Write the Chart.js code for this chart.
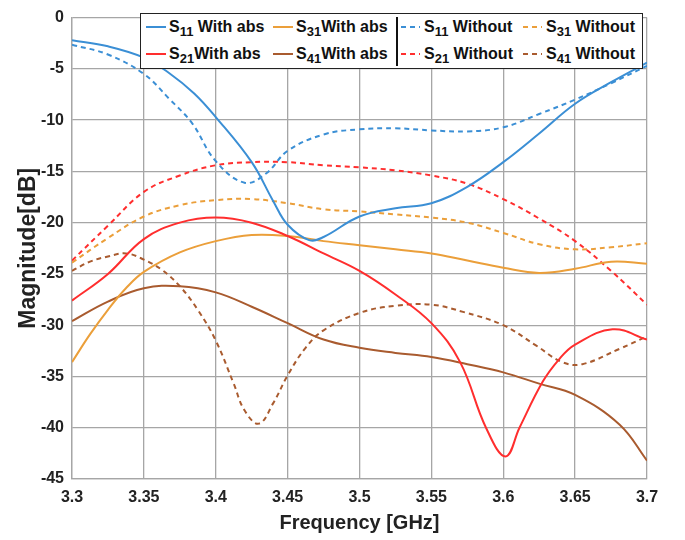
<!DOCTYPE html>
<html>
<head>
<meta charset="utf-8">
<script src="https://cdn.jsdelivr.net/npm/chart.js@4"></script>
<style>
  html, body { margin: 0; padding: 0; background: #fff; }
  #wrap { position: relative; width: 685px; height: 540px; }
  #legend {
    position: absolute; left: 140px; top: 13px; width: 501px; height: 54px;
    border: 1.5px solid #222; background: #fff;
    font: bold 16px "Liberation Sans", Arial, sans-serif; color: #111;
  }
  #legend .divider { position: absolute; left: 255px; top: 3px; width: 1.5px; height: 49px; background: #111; }
  #legend .item { position: absolute; height: 20px; display: flex; align-items: center; white-space: nowrap; }
  #legend svg { margin-right: 3px; }
  #legend sub { font-size: 13px; line-height: 0; }
</style>
</head>
<body>
<div id="wrap">
  <canvas id="chart" width="685" height="540"></canvas>
  <div id="legend"></div>
</div>
<script>
const xTicks = [3.3, 3.35, 3.4, 3.45, 3.5, 3.55, 3.6, 3.65, 3.7];
const xTickLabels = ["3.3", "3.35", "3.4", "3.45", "3.5", "3.55", "3.6", "3.65", "3.7"];
const yTicks = [0, -5, -10, -15, -20, -25, -30, -35, -40, -45];
const yTickLabels = ["0", "-5", "-10", "-15", "-20", "-25", "-30", "-35", "-40", "-45"];

// S11 with absorber
const freqS11Abs = [3.30, 3.325, 3.35, 3.3675, 3.385, 3.40, 3.425, 3.44, 3.45, 3.465, 3.475, 3.50, 3.525, 3.55, 3.575, 3.60, 3.625, 3.65, 3.675, 3.70];
const magS11Abs = [-2.2, -2.8, -3.9, -5.4, -7.4, -9.7, -14.1, -17.9, -20.2, -21.7, -21.4, -19.4, -18.6, -18.1, -16.5, -14.1, -11.3, -8.4, -6.3, -4.4];

// S21 with absorber
const freqS21Abs = [3.30, 3.325, 3.35, 3.375, 3.40, 3.425, 3.45, 3.475, 3.50, 3.525, 3.55, 3.57, 3.588, 3.6016, 3.6113, 3.6275, 3.639, 3.65, 3.676, 3.70];
const magS21Abs = [-27.6, -25.0, -21.6, -20.0, -19.5, -20.0, -21.3, -23.0, -24.7, -27.0, -29.8, -33.6, -40.0, -42.8, -40.0, -35.5, -33.3, -31.9, -30.4, -31.4];

// S31 with absorber
const freqS31Abs = [3.30, 3.3125, 3.325, 3.3375, 3.35, 3.375, 3.40, 3.425, 3.45, 3.475, 3.50, 3.525, 3.55, 3.575, 3.60, 3.625, 3.65, 3.675, 3.70];
const magS31Abs = [-33.6, -30.9, -28.5, -26.4, -24.8, -22.9, -21.8, -21.2, -21.3, -21.8, -22.2, -22.6, -23.0, -23.7, -24.4, -24.9, -24.5, -23.8, -24.0];

// S41 with absorber
const freqS41Abs = [3.30, 3.325, 3.35, 3.375, 3.40, 3.425, 3.45, 3.475, 3.50, 3.525, 3.55, 3.575, 3.60, 3.625, 3.65, 3.681, 3.70];
const magS41Abs = [-29.6, -27.7, -26.4, -26.2, -26.8, -28.2, -29.8, -31.4, -32.2, -32.7, -33.1, -33.8, -34.6, -35.7, -36.8, -39.7, -43.2];

// S11 without absorber
const freqS11No = [3.30, 3.325, 3.35, 3.3675, 3.3835, 3.40, 3.42, 3.435, 3.45, 3.475, 3.50, 3.525, 3.55, 3.575, 3.60, 3.625, 3.65, 3.675, 3.70];
const magS11No = [-2.65, -3.6, -5.5, -7.9, -10.3, -14.0, -16.1, -15.2, -13.0, -11.4, -10.9, -10.8, -11.0, -11.1, -10.7, -9.4, -8.0, -6.4, -4.7];

// S21 / S31 without absorber
const freqNo = [3.30, 3.325, 3.35, 3.375, 3.40, 3.425, 3.45, 3.475, 3.50, 3.525, 3.55, 3.575, 3.60, 3.625, 3.65, 3.675, 3.70];
const magS21No = [-23.7, -20.3, -17.0, -15.4, -14.4, -14.1, -14.1, -14.4, -14.6, -14.9, -15.4, -16.2, -17.7, -19.6, -21.8, -24.7, -28.0];
const magS31No = [-23.9, -21.5, -19.4, -18.3, -17.8, -17.7, -18.1, -18.7, -18.9, -19.2, -19.5, -20.0, -21.0, -22.1, -22.6, -22.4, -22.0];

// S41 without absorber
const freqS41No = [3.30, 3.3125, 3.325, 3.3375, 3.35, 3.3625, 3.375, 3.3875, 3.40, 3.4125, 3.42, 3.43, 3.44, 3.45, 3.4625, 3.475, 3.50, 3.525, 3.55, 3.572, 3.60, 3.623, 3.641, 3.655, 3.681, 3.70];
const magS41No = [-24.7, -23.8, -23.3, -23.0, -23.6, -24.6, -26.2, -28.5, -31.5, -35.7, -38.3, -39.6, -37.6, -34.9, -32.2, -30.5, -28.8, -28.1, -28.0, -28.7, -30.0, -32.0, -33.6, -33.8, -32.3, -31.1];

const blue = "#3b8fd5";
const red = "#ff2e2e";
const orange = "#eb9f3a";
const brown = "#a95b2f";
const dash = [5, 4];

const series = [
  { name: "11", label: " With abs", freq: freqS11Abs, mag: magS11Abs, color: blue, dashed: false, col: 0, row: 0 },
  { name: "21", label: "With abs", freq: freqS21Abs, mag: magS21Abs, color: red, dashed: false, col: 0, row: 1 },
  { name: "31", label: "With abs", freq: freqS31Abs, mag: magS31Abs, color: orange, dashed: false, col: 1, row: 0 },
  { name: "41", label: "With abs", freq: freqS41Abs, mag: magS41Abs, color: brown, dashed: false, col: 1, row: 1 },
  { name: "11", label: " Without", freq: freqS11No, mag: magS11No, color: blue, dashed: true, col: 2, row: 0 },
  { name: "21", label: " Without", freq: freqNo, mag: magS21No, color: red, dashed: true, col: 2, row: 1 },
  { name: "31", label: " Without", freq: freqNo, mag: magS31No, color: orange, dashed: true, col: 3, row: 0 },
  { name: "41", label: " Without", freq: freqS41No, mag: magS41No, color: brown, dashed: true, col: 3, row: 1 },
];

const fontFamily = "'Liberation Sans', Arial, sans-serif";
const tickFont = { family: fontFamily, size: 16, weight: "bold" };
const gridColor = "#a6a6a6";

new Chart(document.querySelector("#chart"), {
  type: "line",
  data: {
    datasets: series.map((s) => ({
      label: `S${s.name}${s.label}`,
      data: s.freq.map((f, i) => ({ x: f, y: s.mag[i] })),
      borderColor: s.color,
      borderWidth: 2,
      borderDash: s.dashed ? dash : [],
      pointRadius: 0,
      fill: false,
      tension: 0.4,
    })),
  },
  options: {
    responsive: false,
    animation: false,
    layout: { padding: { left: 0, right: 38, top: 9, bottom: 0 } },
    plugins: { legend: { display: false }, tooltip: { enabled: false } },
    scales: {
      x: {
        type: "linear",
        min: 3.3,
        max: 3.7,
        afterBuildTicks: (scale) => { scale.ticks = xTicks.map((v) => ({ value: v })); },
        afterFit: (scale) => { scale.height = 61; },
        ticks: {
          color: "#222",
          font: tickFont,
          padding: 9,
          maxRotation: 0,
          callback: (value) => xTickLabels[xTicks.findIndex((t) => Math.abs(t - value) < 1e-6)],
        },
        grid: { color: gridColor, lineWidth: 1.3, drawTicks: false },
        border: { color: gridColor, width: 1.3 },
        title: {
          display: true,
          text: "Frequency [GHz]",
          color: "#222",
          font: { family: fontFamily, size: 20, weight: "bold" },
          padding: { top: 0, bottom: 5 },
        },
      },
      y: {
        min: -45,
        max: 0,
        afterBuildTicks: (scale) => { scale.ticks = yTicks.map((v) => ({ value: v })); },
        afterFit: (scale) => { scale.width = 72; },
        ticks: {
          color: "#222",
          font: tickFont,
          padding: 8,
          callback: (value) => yTickLabels[yTicks.indexOf(value)],
        },
        grid: { color: gridColor, lineWidth: 1.3, drawTicks: false },
        border: { color: gridColor, width: 1.3 },
        title: {
          display: true,
          text: "Magnitude[dB]",
          color: "#222",
          font: { family: fontFamily, size: 23, weight: "bold" },
          padding: { top: 15, bottom: 0 },
        },
      },
    },
  },
});

// legend drawn as html so the subscripts stay real text
const legendCols = [5, 132, 260, 382];
const legendRows = [3, 30];
const legend = document.querySelector("#legend");
legend.innerHTML = `<div class="divider"></div>` + series.map((s) => {
  const line = s.dashed
    ? `<line x1="0" y1="2" x2="19" y2="2" stroke="${s.color}" stroke-width="2" stroke-dasharray="5,4"/>`
    : `<line x1="0" y1="2" x2="20" y2="2" stroke="${s.color}" stroke-width="2"/>`;
  return `<div class="item" style="left:${legendCols[s.col]}px;top:${legendRows[s.row]}px">
    <svg width="20" height="4">${line}</svg><span>S<sub>${s.name}</sub>${s.label}</span></div>`;
}).join("");
</script>
</body>
</html>
